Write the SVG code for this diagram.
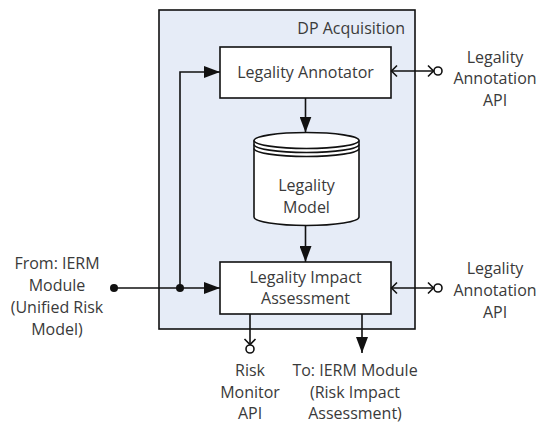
<svg xmlns="http://www.w3.org/2000/svg" width="546" height="423" viewBox="0 0 546 423">
<defs>
<style>
text{font-family:"Open Sans","Liberation Sans",Arial,sans-serif;font-size:16px;fill:#3a3a3a;text-anchor:middle}
.box{fill:#fff;stroke:#111;stroke-width:1.6}
.ln{fill:none;stroke:#111;stroke-width:1.6}
.dot{fill:#111}
.circ{fill:#fff;stroke:#111;stroke-width:1.6}
</style>
<marker id="ah" markerWidth="16" markerHeight="12" refX="16" refY="6" orient="auto" markerUnits="userSpaceOnUse">
<path d="M0,0 L16,6 L0,12 Z" fill="#111"/>
</marker>
</defs>
<rect width="546" height="423" fill="#fff"/>
<g id="container">
<rect x="159" y="10" width="256" height="319" fill="#e6ecf7" stroke="#111" stroke-width="1.6"/>
<text x="405" y="33.5" style="text-anchor:end">DP Acquisition</text>
</g>
<g id="annotator">
<rect class="box" x="220" y="47" width="171" height="51"/>
<text x="305.5" y="77.5">Legality Annotator</text>
</g>
<g id="model">
<path class="box" d="M254,140.5 A52.5,8 0 0 1 359,140.5 L359,217 A52.5,8.5 0 0 1 254,217 Z"/>
<path class="ln" d="M254,140.5 A52.5,8 0 0 0 359,140.5 M254,144.5 A52.5,8 0 0 0 359,144.5 M254,148.5 A52.5,8 0 0 0 359,148.5"/>
<text x="306.5" y="190.5">Legality</text>
<text x="306.5" y="212.5">Model</text>
</g>
<g id="impact">
<rect class="box" x="220" y="262" width="171" height="52"/>
<text x="305.5" y="283">Legality Impact</text>
<text x="305.5" y="304">Assessment</text>
</g>
<g id="labels">
<text x="57" y="268.5">From: IERM</text>
<text x="57" y="290.5">Module</text>
<text x="57" y="312.5">(Unified Risk</text>
<text x="57" y="334.5">Model)</text>
<text x="495" y="62.5">Legality</text>
<text x="495" y="84">Annotation</text>
<text x="495" y="105.5">API</text>
<text x="495" y="273.5">Legality</text>
<text x="495" y="295.5">Annotation</text>
<text x="495" y="317.5">API</text>
<text x="250" y="376">Risk</text>
<text x="250" y="397.5">Monitor</text>
<text x="250" y="419">API</text>
<text x="355" y="376">To: IERM Module</text>
<text x="355" y="397.5">(Risk Impact</text>
<text x="355" y="419">Assessment)</text>
</g>
<g id="connectors">
<line class="ln" x1="114" y1="288" x2="220" y2="288" marker-end="url(#ah)"/>
<circle class="dot" cx="114" cy="288" r="4"/>
<circle class="dot" cx="180" cy="288" r="4"/>
<polyline class="ln" points="180,288 180,72 220,72" marker-end="url(#ah)"/>
<line class="ln" x1="305.5" y1="98" x2="305.5" y2="132.5" marker-end="url(#ah)"/>
<line class="ln" x1="305.5" y1="225.5" x2="305.5" y2="262" marker-end="url(#ah)"/>
<line class="ln" x1="391" y1="71" x2="434" y2="71"/>
<polyline class="ln" points="397,65.5 391.5,71 397,76.5"/>
<polyline class="ln" points="428,65.5 433.5,71 428,76.5"/>
<circle class="circ" cx="438" cy="71" r="4"/>
<line class="ln" x1="391" y1="288" x2="434" y2="288"/>
<polyline class="ln" points="397,282.5 391.5,288 397,293.5"/>
<polyline class="ln" points="428,282.5 433.5,288 428,293.5"/>
<circle class="circ" cx="438" cy="288" r="4"/>
<line class="ln" x1="250" y1="314" x2="250" y2="345"/>
<polyline class="ln" points="244.5,339 250,344.5 255.5,339"/>
<circle class="circ" cx="250" cy="349" r="4"/>
<line class="ln" x1="362" y1="314" x2="362" y2="353" marker-end="url(#ah)"/>
</g>
</svg>
